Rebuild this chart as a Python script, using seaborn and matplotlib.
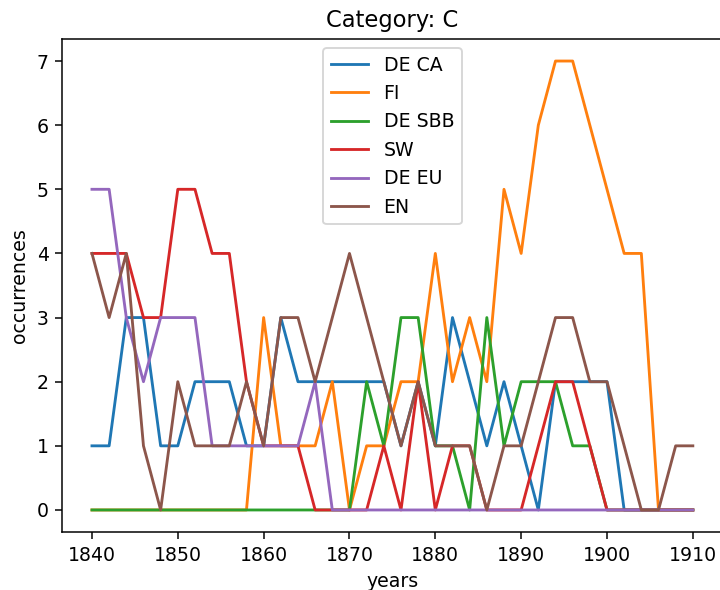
import matplotlib
matplotlib.use("Agg")
import matplotlib.pyplot as plt
import seaborn as sns
import pandas as pd

years = list(range(1840, 1911, 2))

de_ca  = [1,1,3,3,1,1,2,2,2,1,1,3,2,2,2,2,2,2,1,2,1,3,2,1,2,1,0,2,2,2,2,0,0,0,0,0]
fi     = [0,0,0,0,0,0,0,0,0,0,3,1,1,1,2,0,1,1,2,2,4,2,3,2,5,4,6,7,7,6,5,4,4,0,0,0]
de_sbb = [0,0,0,0,0,0,0,0,0,0,0,0,0,0,0,0,2,1,3,3,1,1,0,3,1,2,2,2,1,1,0,0,0,0,0,0]
sw     = [4,4,4,3,3,5,5,4,4,2,1,1,1,0,0,0,0,1,0,2,0,1,1,0,0,0,1,2,2,1,0,0,0,0,0,0]
de_eu  = [5,5,3,2,3,3,3,1,1,1,1,1,1,2,0,0,0,0,0,0,0,0,0,0,0,0,0,0,0,0,0,0,0,0,0,0]
en     = [4,3,4,1,0,2,1,1,1,2,1,3,3,2,3,4,3,2,1,2,1,1,1,0,1,1,2,3,3,2,2,1,0,0,1,1]

series_names = ["DE CA", "FI", "DE SBB", "SW", "DE EU", "EN"]
series_values = [de_ca, fi, de_sbb, sw, de_eu, en]

rows = []
for name, vals in zip(series_names, series_values):
    for y, v in zip(years, vals):
        rows.append({"years": y, "occurrences": v, "series": name})
df = pd.DataFrame(rows)

DPI = 136
fig = plt.figure(figsize=(720 / DPI, 590 / DPI), dpi=DPI)
ax = fig.add_axes([0.086, 0.0976, 0.918, 0.837])

palette = sns.color_palette("tab10", len(series_names))
for i, name in enumerate(series_names):
    sub = df[df["series"] == name]
    sns.lineplot(data=sub, x="years", y="occurrences", ax=ax,
                 color=palette[i], label=name, linewidth=1.5)

ax.set_title("Category: C")
ax.set_xlabel("years")
ax.set_ylabel("occurrences")
ax.legend(loc="upper center")

fig.savefig("out.png", dpi=DPI)
